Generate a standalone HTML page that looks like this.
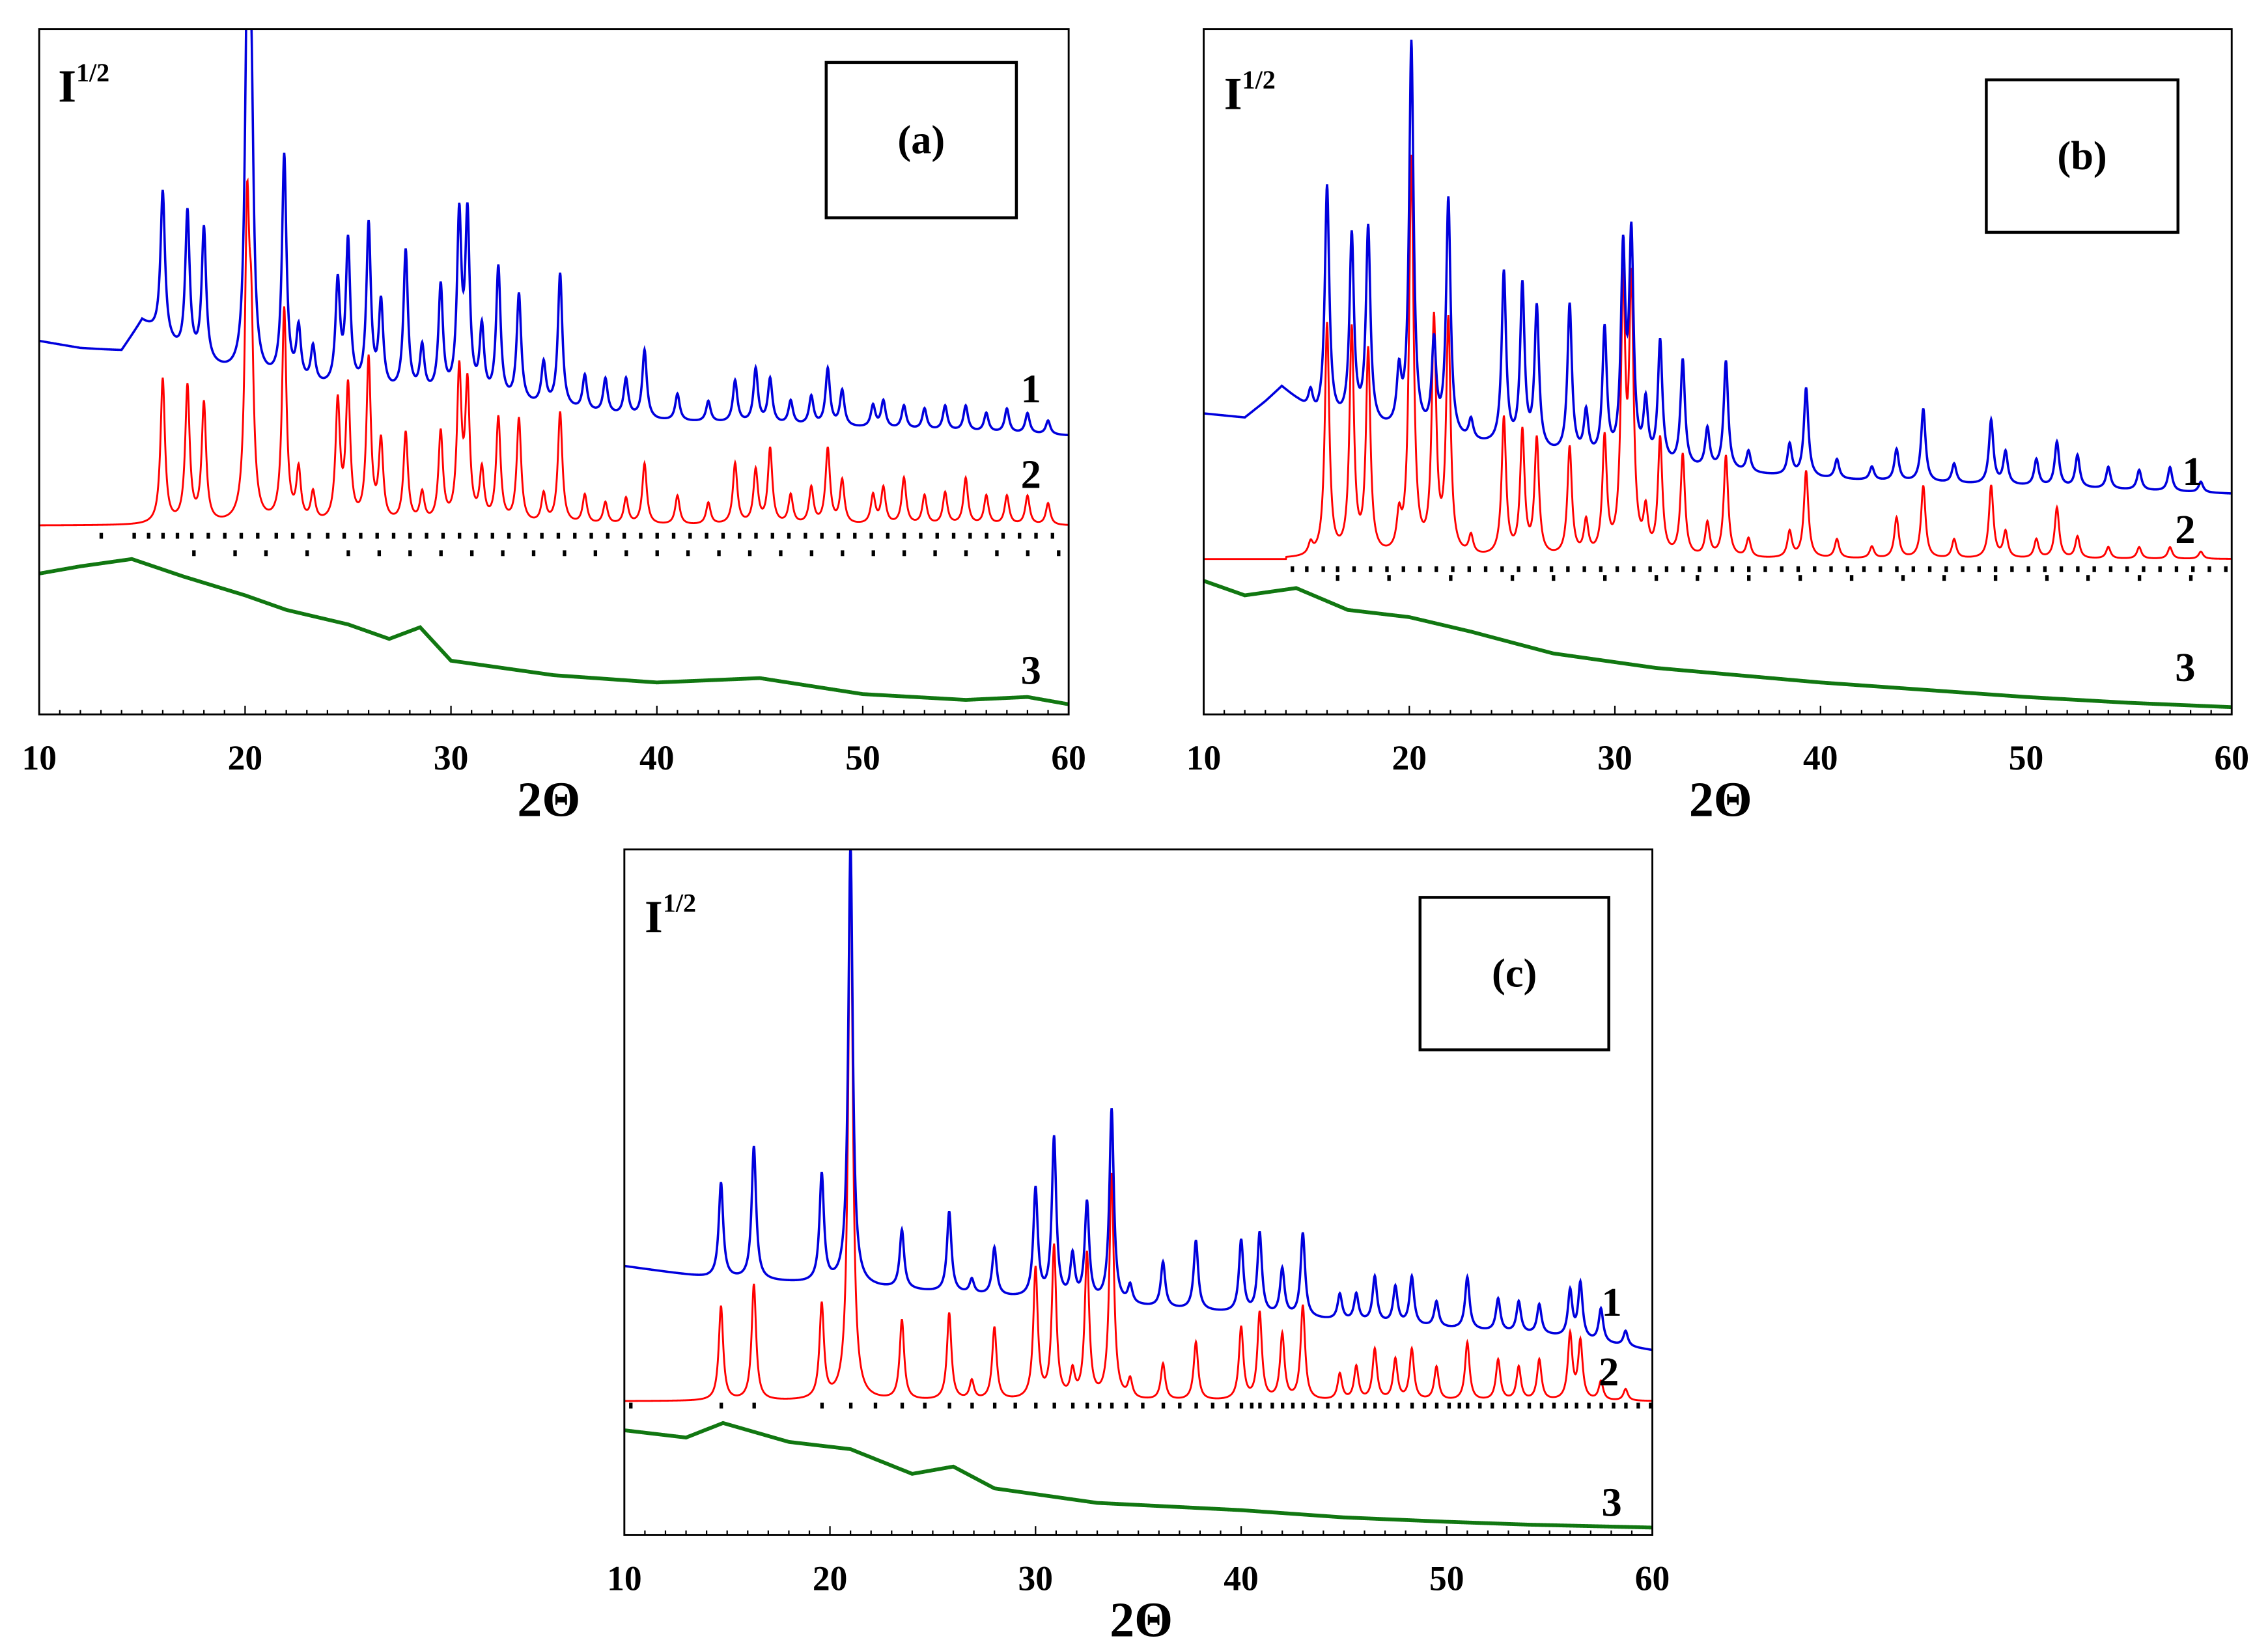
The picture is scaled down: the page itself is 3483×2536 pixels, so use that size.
<!DOCTYPE html>
<html><head><meta charset="utf-8"><style>
html,body{margin:0;padding:0;background:#fff;}
svg{display:block;}
text{font-family:"Liberation Serif",serif;font-weight:bold;fill:#000;}
</style></head><body>
<svg id="fig" width="3483" height="2536" viewBox="0 0 1562 1137" preserveAspectRatio="none" xmlns="http://www.w3.org/2000/svg"></svg>
<script>
// ---------- data (intensity units: display px above plot bottom) ----------
// Panel a
const aBlueBgX=[10,12,14,15,17,20,25,30,35,40,50,60];
const aBlueBgY=[257,252,250,270,245,230,222,217,210,202,197,192];
const aPeakPos=[16,17.2,18,20.1,20.3,21.9,24.5,25,26,27.8,29.5,30.4,30.8,32.3,33.3,35.3,39.4,43.8,44.8,45.5,48.3,49,52,55,58,22.6,23.3,26.6,28.6,31.5,34.5,36.5,37.5,38.5,41,42.5,46.5,47.5,50.5,51,53,54,56,57,59];
const aBlueApex=[359,344,332,467,407,382,294,322,334,317,292,337,337,305,287,302,250,229,237,230,237,222,212,212,207,262,250,280,250,262,240,232,230,230,220,215,215,218,212,215,210,212,207,210,202];
const aRedBase=130;
const aRedApex=[230,224,212,332,242,277,212,222,242,192,192,232,222,202,202,207,172,172,167,182,182,160,162,162,150,165,150,185,150,165,150,150,145,148,150,145,150,155,150,155,150,152,150,150,145];
const aGreenX=[10,12,14.5,17,20,22,25,27,28.5,30,35,40,45,50,55,58,60];
const aGreenY=[97,102,107,95,82,72,62,52,60,37,27,22,25,14,10,12,7];
const aTicks1=[13,14.6,15.3,16,16.7,17.4,18.2,19,19.8,20.6,21.5,22.3,23.1,24,24.8,25.6,26.4,27.2,28,28.8,29.6,30.4,31.2,32,32.8,33.6,34.4,35.2,36,36.8,37.6,38.4,39.2,40,40.8,41.6,42.4,43.2,44,44.8,45.6,46.4,47.2,48,48.8,49.6,50.4,51.2,52,52.8,53.6,54.4,55.2,56,56.8,57.6,58.4,59.2];
const aTicks2=[17.5,19.5,21,23,25,26.5,28,29.5,31,32.5,34,35.5,37,38.5,40,41.5,43,44.5,46,47.5,49,50.5,52,53.5,55,56.5,58,59.5];
// Panel b
const bBlueBgX=[10,12,13,13.8,14.6,15.5,20,25,30,35,40,50,60];
const bBlueBgY=[207,204,215,225,215,202,192,182,172,167,162,157,152];
const bPeakPos=[16,17.2,18,20.1,21.2,21.9,24.6,25.5,26.2,27.8,29.5,30.4,30.8,32.2,33.3,35.4,39.3,45,48.3,51.5,15.2,19.5,23,28.6,31.5,34.5,36.5,38.5,40.8,42.5,43.7,46.5,49,50.5,52.5,54,55.5,57,58.5];
const bBlueApex=[362,327,332,460,252,352,302,292,277,280,262,312,322,254,242,242,224,210,202,187,220,230,200,205,210,195,180,185,175,170,182,172,180,175,178,170,168,170,160];
const bRedBase=107;
const bRedApex=[267,262,247,380,267,267,202,192,187,182,187,287,287,187,177,177,167,157,157,142,115,130,120,130,135,130,120,125,120,115,135,120,125,120,122,115,115,115,112];
const bGreenX=[10,12,14.5,17,20,23,27,32,40,45,50,55,60];
const bGreenY=[92,82,87,72,67,57,42,32,22,17,12,8,5];
const bTicks1=[14.3,15,15.8,16.5,17.3,18.1,18.9,19.7,20.5,21.3,22.1,22.9,23.7,24.5,25.3,26.1,26.9,27.7,28.5,29.3,30.1,30.9,31.7,32.5,33.3,34.1,34.9,35.7,36.5,37.3,38.1,38.9,39.7,40.5,41.3,42.1,42.9,43.7,44.5,45.3,46.1,46.9,47.7,48.5,49.3,50.1,50.9,51.7,52.5,53.3,54.1,54.9,55.7,56.5,57.3,58.1,58.9,59.7];
const bTicks2=[16.5,19,22,25,27,29.5,32,34,36.5,39,41.5,44,46,48.5,51,53,55.5,58];
// Panel c
const cBlueBgX=[10,14,20,25,30,35,40,45,50,55,60];
const cBlueBgY=[185,177,172,167,162,157,152,147,142,137,127];
const cPeakPos=[14.7,16.3,19.6,21,23.5,25.8,28,30,30.9,32.5,33.7,36.2,37.8,40,40.9,42,43,46.5,48.3,51,56,56.5,26.9,31.8,34.6,44.8,45.6,47.5,49.5,52.5,53.5,54.5,57.5,58.7];
const cBlueApex=[242,267,247,475,209,222,197,237,272,227,292,187,202,202,207,182,207,177,177,177,167,172,175,190,170,165,165,170,160,162,160,158,155,140];
const cRedBase=92;
const cRedApex=[157,172,157,467,147,152,142,182,197,192,247,117,132,142,152,137,157,127,127,132,137,132,105,110,105,110,115,120,115,120,115,120,105,100];
const cGreenX=[10,13,14.8,18,21,24,26,28,33,40,45,50,54,60];
const cGreenY=[72,67,77,64,59,42,47,32,22,17,12,9,7,5];
const cTicks1=[10.3,14.7,16.3,19.6,21,22.2,23.5,24.6,25.8,26.9,28,29,30,30.9,31.8,32.5,33.1,33.7,34.4,35.2,36.2,37,37.8,38.6,39.3,40,40.5,40.9,41.5,42,42.5,43,43.6,44.2,44.8,45.4,46,46.5,47,47.6,48.3,48.9,49.5,50.1,50.6,51,51.6,52.2,52.8,53.4,54,54.6,55.2,55.8,56.3,56.9,57.5,58.1,58.7,59.3,59.9];
const xTickLabels=["10","20","30","40","50","60"];

const panels=[
 {id:"a",x0:27,x1:736,y0:20,y1:492,bx:aBlueBgX,by:aBlueBgY,pp:aPeakPos,ba:aBlueApex,rb:aRedBase,ra:aRedApex,rStart:10,gx:aGreenX,gy:aGreenY,t1:aTicks1,t2:aTicks2,t1y:369,t2y:381,
  box:[569,43,131,107],lab:[[710,277],[710,336],[710,471]],Ilab:[40,70],xt:[378,562]},
 {id:"b",x0:829,x1:1537,y0:20,y1:492,bx:bBlueBgX,by:bBlueBgY,pp:bPeakPos,ba:bBlueApex,rb:bRedBase,ra:bRedApex,rStart:14,gx:bGreenX,gy:bGreenY,t1:bTicks1,t2:bTicks2,t1y:392,t2y:398,
  box:[1368,55,132,105],lab:[[1510,334],[1505,374],[1505,469]],Ilab:[843,75],xt:[1185,562]},
 {id:"c",x0:430,x1:1138,y0:585,y1:1057,bx:cBlueBgX,by:cBlueBgY,pp:cPeakPos,ba:cBlueApex,rb:cRedBase,ra:cRedApex,rStart:10,gx:cGreenX,gy:cGreenY,t1:cTicks1,t2:[],t1y:968,t2y:0,
  box:[978,618,130,105],lab:[[1110,906],[1108,954],[1110,1044]],Ilab:[444,642],xt:[786,1127]}
];

const NS="http://www.w3.org/2000/svg";
const svg=document.getElementById('fig');
function mk(tag,attrs,parent){const e=document.createElementNS(NS,tag);for(const k in attrs)e.setAttribute(k,attrs[k]);(parent||svg).appendChild(e);return e;}
function interp(xs,ys,x){if(x<=xs[0])return ys[0];for(let i=1;i<xs.length;i++){if(x<=xs[i]){const t=(x-xs[i-1])/(xs[i]-xs[i-1]);return ys[i-1]+t*(ys[i]-ys[i-1]);}}return ys[ys.length-1];}
function lor(x,p,w){const d=(x-p)/w;return 1/(1+d*d);}

panels.forEach(P=>{
  const g=mk('g',{});
  
  
  const xs=v=>P.x0+(v-10)/50*(P.x1-P.x0);
  const ys=v=>P.y1-v;
  const clip=mk('clipPath',{id:'clip'+P.id},g);
  mk('rect',{x:P.x0,y:P.y0,width:P.x1-P.x0,height:P.y1-P.y0},clip);
  const plot=mk('g',{'clip-path':'url(#clip'+P.id+')'},g);
  const W=0.13;
  const bAmp=P.pp.map((p,i)=>P.ba[i]-interp(P.bx,P.by,p));
  const rAmp=P.pp.map((p,i)=>P.ra[i]-P.rb);
  let db="",dr="",dg="";
  for(let x=10;x<=60.001;x+=0.02){
    let b=interp(P.bx,P.by,x),r=P.rb;
    for(let i=0;i<P.pp.length;i++){const l=lor(x,P.pp[i],W);b+=bAmp[i]*l;if(x>=P.rStart)r+=rAmp[i]*l;}
    const g2=interp(P.gx,P.gy,x);
    const X=xs(x).toFixed(2);
    db+=(db?"L":"M")+X+","+ys(b).toFixed(2);
    dr+=(dr?"L":"M")+X+","+ys(r).toFixed(2);
    dg+=(dg?"L":"M")+X+","+ys(g2).toFixed(2);
  }
  const pr=mk('path',{d:dr,fill:'none',stroke:'#ff0000','stroke-width':1.3},plot);
  
  
  const pb=mk('path',{d:db,fill:'none',stroke:'#0000dd','stroke-width':1.6},plot);
  
  
  const pg=mk('path',{d:dg,fill:'none',stroke:'#117711','stroke-width':2.6},plot);
  
  
  [[P.t1,P.t1y],[P.t2,P.t2y]].forEach(([arr,yy])=>{arr.forEach(v=>{
    const t=mk('rect',{x:xs(v)-1,y:yy-2,width:2.4,height:4,fill:'#000'},plot);
    
    
  });});
  const fr=mk('rect',{x:P.x0,y:P.y0,width:P.x1-P.x0,height:P.y1-P.y0,fill:'none',stroke:'#000','stroke-width':1.3},g);
  
  
  for(let v=10;v<=60;v+=1){mk('line',{x1:xs(v),x2:xs(v),y1:P.y1,y2:P.y1-(v%10===0?6:3),stroke:'#000','stroke-width':1},g);}
  xTickLabels.forEach(s=>{
    const t=mk('text',{x:xs(+s),y:P.y1+38,'text-anchor':'middle','font-size':24},g);
    t.textContent=s;
    
    
  });
  const xt=mk('text',{x:P.xt[0],y:P.xt[1],'text-anchor':'middle','font-size':34},g);
  xt.textContent="2Θ";
  
  
  const yt=mk('text',{x:P.Ilab[0],y:P.Ilab[1],'font-size':32},g);
  yt.innerHTML='I<tspan dy="-14" font-size="18">1/2</tspan>';
  
  
  const bx=mk('rect',{x:P.box[0],y:P.box[1],width:P.box[2],height:P.box[3],fill:'#fff',stroke:'#000','stroke-width':2},g);
  
  
  const bl=mk('text',{x:P.box[0]+P.box[2]/2,y:P.box[1]+P.box[3]/2+9,'text-anchor':'middle','font-size':28},g);
  bl.textContent="("+P.id+")";
  
  
  P.lab.forEach((q,i)=>{
    const t=mk('text',{x:q[0],y:q[1],'text-anchor':'middle','font-size':28},g);
    t.textContent=String(i+1);
    
    
  });
});
</script>
</body></html>
